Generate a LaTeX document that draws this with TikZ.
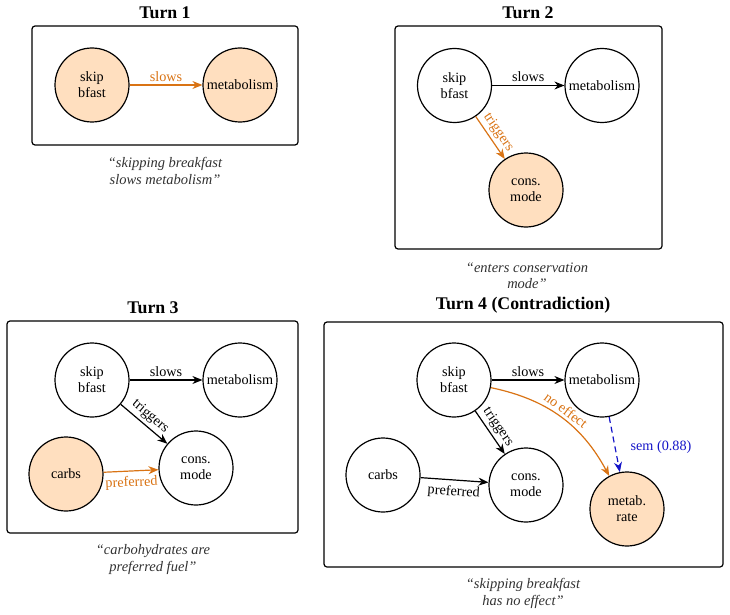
\documentclass[tikz,border=0pt]{standalone}
\usepackage{fontspec}
\setmainfont{Liberation Serif}
\usetikzlibrary{arrows.meta,positioning}
\definecolor{edgeor}{RGB}{217,115,20}
\definecolor{peach}{RGB}{255,223,191}
\definecolor{sembl}{RGB}{20,20,200}
\definecolor{capgray}{RGB}{50,50,50}
\tikzset{
  ent/.style={circle,draw,line width=1.2pt,minimum size=74pt,inner sep=0pt,align=center,font=\fontsize{14.2}{15.8}\selectfont},
  hot/.style={ent,fill=peach},
  rel/.style={line width=1.2pt,-{Stealth[length=10pt,width=8pt]}},
  hotrel/.style={rel,draw=edgeor},
  semrel/.style={rel,draw=sembl,dash pattern=on 6pt off 4pt},
  elab/.style={font=\fontsize{14.2}{15.8}\selectfont,inner sep=3pt},
  panel/.style={draw,line width=1.2pt,rounded corners=3pt},
  ttl/.style={font=\fontsize{17.8}{20}\selectfont\bfseries},
  captxt/.style={font=\fontsize{14.5}{16.5}\selectfont\itshape,text=capgray,align=center}
}
\begin{document}
\begin{tikzpicture}[x=1pt,y=1pt]
\useasboundingbox (0,0) rectangle (730,-615);
% ---------- Turn 1
\node[ttl] (t1) at (165,-13) {Turn 1};
\draw[panel] (32,-26) rectangle (298,-145);
\node[hot] (a1) at (92,-85) {skip\\bfast};
\node[hot] (b1) at (240,-85) {metabolism};
\draw[hotrel] (a1) -- node[elab,above,text=edgeor] {slows} (b1);
\node[captxt] (c1) at (165,-171) {``skipping breakfast\\ slows metabolism''};
% ---------- Turn 2
\node[ttl] (t2) at (528,-13) {Turn 2};
\draw[panel] (395,-26) rectangle (662,-249);
\node[ent] (a2) at (454.5,-85.5) {skip\\bfast};
\node[ent] (b2) at (602,-85.5) {metabolism};
\node[hot] (d2) at (526,-190) {cons.\\mode};
\draw[rel] (a2) -- node[elab,above] {slows} (b2);
\draw[hotrel] (a2) -- node[elab,above,sloped,text=edgeor] {triggers} (d2);
\node[captxt] (c2) at (527,-275.5) {``enters conservation\\ mode''};
% ---------- Turn 3
\node[ttl] (t3) at (153,-308) {Turn 3};
\draw[panel] (7,-321) rectangle (298,-533);
\node[ent] (a3) at (92,-380) {skip\\bfast};
\node[ent] (b3) at (240,-380) {metabolism};
\node[ent] (d3) at (196,-468) {cons.\\mode};
\node[hot] (e3) at (66,-474) {carbs};
\draw[rel] (a3) -- node[elab,above] {slows} (b3);
\draw[rel] (a3) -- node[elab,above,sloped] {triggers} (d3);
\draw[hotrel] (e3) -- node[elab,below=2pt,sloped,text=edgeor] {preferred} (d3);
\node[captxt] (c3) at (153,-559.5) {``carbohydrates are\\ preferred fuel''};
% ---------- Turn 4
\node[ttl] (t4) at (523,-305) {Turn 4 (Contradiction)};
\draw[panel] (324,-322) rectangle (723,-567);
\node[ent] (a4) at (454,-380) {skip\\bfast};
\node[ent] (b4) at (602,-380) {metabolism};
\node[ent] (d4) at (526,-485) {cons.\\mode};
\node[ent] (e4) at (383,-475) {carbs};
\node[hot] (f4) at (627,-509) {metab.\\rate};
\draw[rel] (a4) -- node[elab,above] {slows} (b4);
\draw[rel] (a4) -- node[elab,above,sloped] {triggers} (d4);
\draw[rel] (e4) -- node[elab,below=2pt,sloped] {preferred} (d4);
\draw[hotrel] (a4) to[bend left=25] node[elab,above,sloped,pos=0.5,text=edgeor] {no effect} (f4);
\draw[semrel] (b4) -- node[elab,right=12pt,pos=0.55,text=sembl] {sem (0.88)} (f4);
\node[captxt] (c4) at (523,-593.5) {``skipping breakfast\\ has no effect''};
\end{tikzpicture}
\end{document}
